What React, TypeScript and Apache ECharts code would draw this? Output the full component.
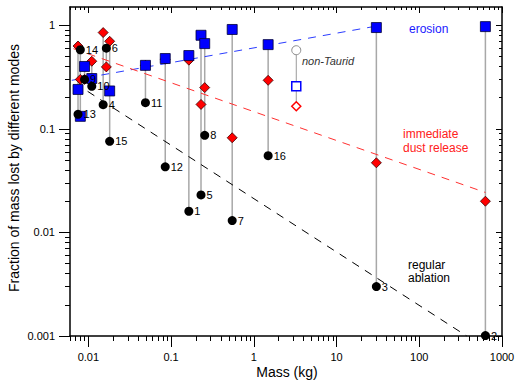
import React, { useEffect, useRef } from 'react';
import * as echarts from 'echarts';

// Meteoroid identifiers and masses (kg)
const ids = ['1', '2', '3', '4', '5', '6', '7', '8', '9', '10', '11', '12', '13', '14', '15', '16'];
const mass = [0.164, 630, 30.3, 0.0151, 0.23, 0.0165, 0.548, 0.255, 0.009, 0.011, 0.049, 0.085, 0.0075, 0.008, 0.0181, 1.49];
// Fractions of mass lost by each mode
const erosion = [0.51, 0.97, 0.95, null, 0.8, null, 0.91, 0.665, 0.4, 0.306, 0.41, 0.477, 0.24, 0.132, 0.232, 0.65];
const dust = [0.46, 0.02, 0.047, 0.85, 0.172, 0.396, 0.082, 0.25, 0.3, 0.449, 0.41, 0.47, 0.63, 0.3, 0.7, 0.294];
const ablation = [0.016, 0.00101, 0.003, 0.171, 0.023, 0.6, 0.013, 0.0865, 0.3, 0.257, 0.179, 0.043, 0.138, 0.58, 0.0757, 0.055];

// Non-Taurid object
const ntMass = [3.26];
const ntErosion = [0.257];
const ntDust = [0.165];
const ntAblation = [0.574];

// Trend lines
const erosionTrendMass = [0.0063, 30];
const erosionTrendFrac = [0.294, 0.98];
const dustTrendMass = [0.0066, 630];
const dustTrendFrac = [0.594, 0.0243];
const ablationTrendMass = [0.0098, 374];
const ablationTrendFrac = [0.23, 0.001];

// Axis ticks
const xMajor = [0.01, 0.1, 1, 10, 100, 1000];
const xMajorLabels = ['0.01', '0.1', '1', '10', '100', '1000'];
const yMajor = [0.001, 0.01, 0.1, 1];
const yMajorLabels = ['0.001', '0.01', '0.1', '1'];
const minorMultipliers = [2, 3, 4, 5, 6, 7, 8, 9];
const xMinorDecades = [0.001, 0.01, 0.1, 1, 10, 100];
const yMinorDecades = [0.001, 0.01, 0.1, 1];

const FONT = 'Liberation Sans, Arial, Helvetica, sans-serif';

function minorTicks(decades: number[], lo: number, hi: number) {
  const out: number[] = [];
  decades.forEach((d) => {
    minorMultipliers.forEach((k) => {
      const v = parseFloat((d * k).toPrecision(6));
      if (v >= lo && v <= hi) out.push(v);
    });
  });
  return out;
}

function labelFor(values: number[], labels: string[]) {
  return (v: number) => {
    const i = values.findIndex((t) => Math.abs(Math.log10(t) - Math.log10(v)) < 1e-6);
    return i >= 0 ? labels[i] : '';
  };
}

export default function App() {
  const ref = useRef<HTMLDivElement>(null);
  useEffect(() => {
    document.body.style.margin = '0';
    if (!ref.current) return;
    const chart = echarts.init(ref.current, undefined, { renderer: 'svg' });

    const XMIN = 0.006, XMAX = 1000, YMIN = 0.001, YMAX = 1.5;
    const xMinor = minorTicks(xMinorDecades, XMIN, XMAX);
    const yMinor = minorTicks(yMinorDecades, YMIN, YMAX);

    const lineStyleAxis = { color: '#000', width: 1.5 };
    const mkAxis = (
      min: number,
      max: number,
      majorVals: number[],
      minorVals: number[],
      labels: string[],
      position: string,
      major: boolean,
      inside: boolean,
      withLine: boolean,
      withLabel: boolean
    ) => ({
      type: 'log',
      min,
      max,
      position,
      axisLine: { show: withLine, lineStyle: lineStyleAxis },
      axisTick: {
        show: true,
        inside,
        length: major ? (inside ? 6 : 11) : inside ? 3 : 5,
        customValues: major ? majorVals : minorVals,
        lineStyle: { color: '#000', width: 1 },
      },
      axisLabel: withLabel
        ? {
            show: true,
            customValues: majorVals,
            formatter: labelFor(majorVals, labels),
            color: '#000',
            fontFamily: FONT,
            fontSize: 11,
            margin: 15,
            hideOverlap: false,
          }
        : { show: false },
      splitLine: { show: false },
      minorTick: { show: false },
    });
    const mkX = (position: string, major: boolean, inside: boolean, withLine: boolean, withLabel: boolean) =>
      mkAxis(XMIN, XMAX, xMajor, xMinor, xMajorLabels, position, major, inside, withLine, withLabel);
    const mkY = (position: string, major: boolean, inside: boolean, withLine: boolean, withLabel: boolean) =>
      mkAxis(YMIN, YMAX, yMajor, yMinor, yMajorLabels, position, major, inside, withLine, withLabel);

    const stems: number[][] = mass.map((m, i) => {
      const vals = [erosion[i], dust[i], ablation[i]].filter((v) => v != null) as number[];
      return [m, Math.min(...vals), Math.max(...vals)];
    });
    const ntStems = ntMass.map((m, i) => [m, Math.min(ntErosion[i], ntDust[i], ntAblation[i]), Math.max(ntErosion[i], ntDust[i], ntAblation[i])]);

    const stemSeries = (data: number[][], color: string, width: number) => ({
      type: 'custom',
      xAxisIndex: 0,
      yAxisIndex: 0,
      silent: true,
      z: 1,
      data,
      encode: { x: 0, y: [1, 2] },
      renderItem: (params: any, api: any) => {
        const a = api.coord([api.value(0), api.value(1)]);
        const b = api.coord([api.value(0), api.value(2)]);
        return {
          type: 'line',
          shape: { x1: a[0], y1: a[1], x2: b[0], y2: b[1] },
          style: { stroke: color, lineWidth: width },
        };
      },
    });

    const trend = (xs: number[], ys: number[], color: string) => ({
      type: 'line',
      xAxisIndex: 0,
      yAxisIndex: 0,
      silent: true,
      symbol: 'none',
      z: 2,
      data: xs.map((x, i) => [x, ys[i]]),
      lineStyle: { color, width: 1, type: [8, 7] },
    });

    chart.setOption({
      animation: false,
      grid: { left: 70, right: 16, top: 7, bottom: 53 },
      xAxis: [
        mkX('bottom', true, false, true, true),
        mkX('bottom', false, false, false, false),
        mkX('top', true, true, true, false),
        mkX('top', false, true, false, false),
      ],
      yAxis: [
        mkY('left', true, false, true, true),
        mkY('left', false, false, false, false),
        mkY('right', true, true, true, false),
        mkY('right', false, true, false, false),
      ],
      series: [
        stemSeries(stems, '#a8a8a8', 1.5),
        stemSeries(ntStems, '#9a9a9a', 1),
        trend(erosionTrendMass, erosionTrendFrac, '#2a3cff'),
        trend(dustTrendMass, dustTrendFrac, '#ff3030'),
        trend(ablationTrendMass, ablationTrendFrac, '#000000'),
        {
          type: 'scatter',
          name: 'dust',
          xAxisIndex: 0,
          yAxisIndex: 0,
          z: 3,
          symbol: 'diamond',
          symbolSize: 10,
          itemStyle: { color: '#ff0000', borderColor: '#3a0000', borderWidth: 0.8, opacity: 1 },
          data: mass.map((m, i) => [m, dust[i]]).filter((d) => d[1] != null),
        },
        {
          type: 'scatter',
          name: 'erosion',
          xAxisIndex: 0,
          yAxisIndex: 0,
          z: 4,
          symbol: 'rect',
          symbolSize: 10,
          itemStyle: { color: '#0000ff', borderColor: '#00003a', borderWidth: 0.8, opacity: 1 },
          data: mass.map((m, i) => [m, erosion[i]]).filter((d) => d[1] != null),
        },
        {
          type: 'scatter',
          name: 'ablation',
          xAxisIndex: 0,
          yAxisIndex: 0,
          z: 5,
          symbol: 'circle',
          symbolSize: 9,
          clip: false,
          itemStyle: { color: '#000', opacity: 1 },
          label: {
            show: true,
            position: 'right',
            distance: 1,
            color: '#000',
            fontFamily: FONT,
            fontSize: 11,
            formatter: (p: any) => p.value[2],
          },
          data: mass.map((m, i) => [m, ablation[i], ids[i]]),
        },
        {
          type: 'scatter',
          xAxisIndex: 0,
          yAxisIndex: 0,
          z: 5,
          symbol: 'circle',
          symbolSize: 9,
          itemStyle: { color: '#fff', borderColor: '#8a8a8a', borderWidth: 1, opacity: 1 },
          data: ntMass.map((m, i) => [m, ntAblation[i]]),
        },
        {
          type: 'scatter',
          xAxisIndex: 0,
          yAxisIndex: 0,
          z: 5,
          symbol: 'rect',
          symbolSize: 9,
          itemStyle: { color: '#fff', borderColor: '#0000ff', borderWidth: 1.5, opacity: 1 },
          data: ntMass.map((m, i) => [m, ntErosion[i]]),
        },
        {
          type: 'scatter',
          xAxisIndex: 0,
          yAxisIndex: 0,
          z: 5,
          symbol: 'diamond',
          symbolSize: 9,
          itemStyle: { color: '#fff', borderColor: '#ff0000', borderWidth: 1.5, opacity: 1 },
          data: ntMass.map((m, i) => [m, ntDust[i]]),
        },
      ],
      graphic: [
        {
          type: 'text',
          x: 14,
          y: 168,
          rotation: Math.PI / 2,
          style: {
            text: 'Fraction of mass lost by different modes',
            fill: '#000',
            font: `14px ${FONT}`,
            align: 'center',
            verticalAlign: 'middle',
          },
        },
        {
          type: 'text',
          x: 287,
          y: 372,
          style: { text: 'Mass (kg)', fill: '#000', font: `14px ${FONT}`, align: 'center', verticalAlign: 'middle' },
        },
        {
          type: 'text',
          x: 409,
          y: 29,
          style: { text: 'erosion', fill: '#1a1aff', font: `12px ${FONT}`, align: 'left', verticalAlign: 'middle' },
        },
        {
          type: 'text',
          x: 403,
          y: 141,
          style: {
            text: 'immediate\ndust release',
            fill: '#ff2020',
            font: `12px ${FONT}`,
            lineHeight: 14,
            align: 'left',
            verticalAlign: 'middle',
          },
        },
        {
          type: 'text',
          x: 408,
          y: 271,
          style: {
            text: 'regular\nablation',
            fill: '#000',
            font: `12px ${FONT}`,
            lineHeight: 13,
            align: 'left',
            verticalAlign: 'middle',
          },
        },
        {
          type: 'text',
          x: 302,
          y: 61,
          style: { text: 'non-Taurid', fill: '#333', font: `italic 11px ${FONT}`, align: 'left', verticalAlign: 'middle' },
        },
      ],
    });
    return () => chart.dispose();
  }, []);
  return <div ref={ref} style={{ width: 518, height: 389 }} />;
}
